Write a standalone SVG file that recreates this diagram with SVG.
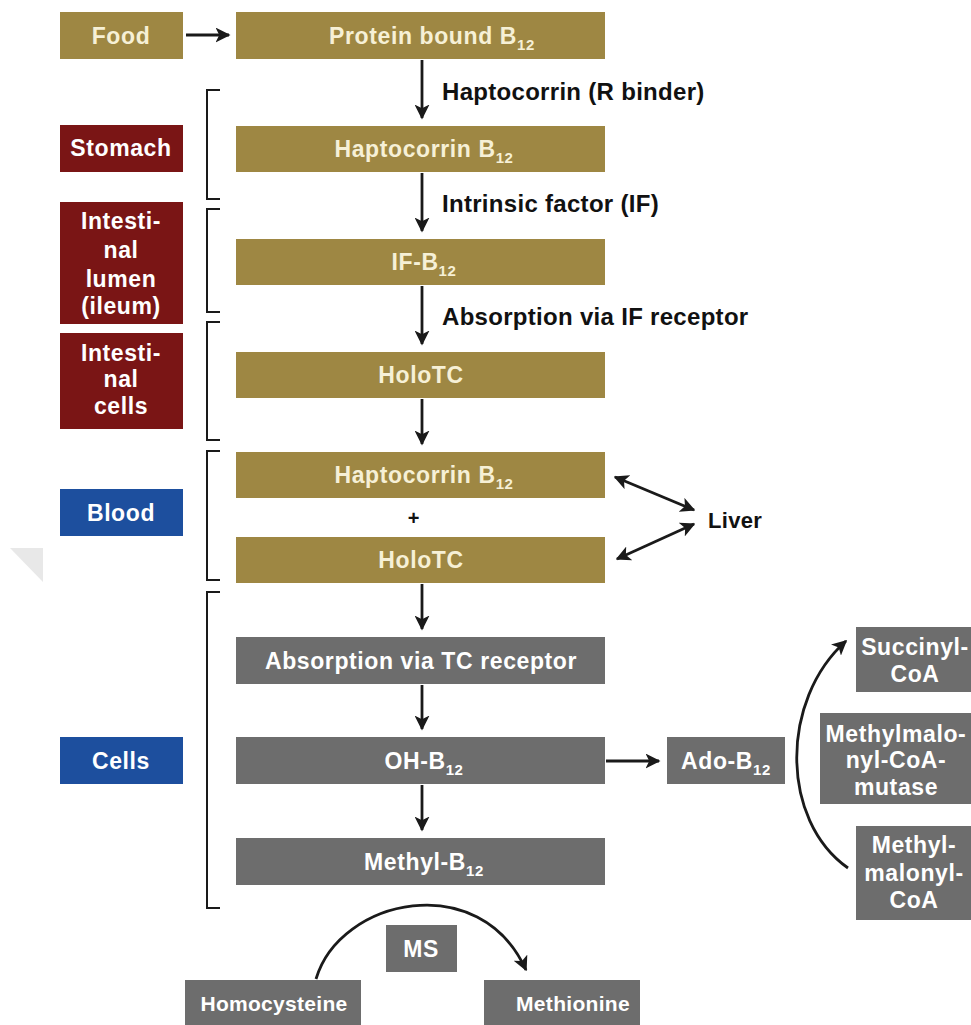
<svg xmlns="http://www.w3.org/2000/svg" width="971" height="1025" viewBox="0 0 971 1025">
<style>
.gold{fill:#9E8743}
.red{fill:#7A1515}
.blue{fill:#1D4F9E}
.gray{fill:#6D6D6D}
text{font-family:"Liberation Sans",Arial,sans-serif;font-weight:bold;font-size:23px;letter-spacing:0.6px;text-anchor:middle}
.lt{fill:#F6F0D6}
.wt{fill:#FFFFFF}
.bk{fill:#111;text-anchor:start;font-size:24px;letter-spacing:0.3px}
.sm{font-size:21px;letter-spacing:0.3px}
.sub{font-size:15px}
.ln{stroke:#1a1a1a;stroke-width:2.8;fill:none}
.br{stroke:#1a1a1a;stroke-width:2;fill:none}
</style>
<defs>
<marker id="a" viewBox="0 0 10 10" refX="9" refY="5" markerWidth="15" markerHeight="15" markerUnits="userSpaceOnUse" orient="auto-start-reverse">
<path d="M0,0 L10,5 L0,10 L2.5,5 Z" fill="#1a1a1a"/>
</marker>
</defs>
<rect width="971" height="1025" fill="#fff"/>
<polygon points="10,548 43,548 43,582" fill="#e8e8e8"/>

<g id="food"><rect class="gold" x="60" y="12" width="123" height="47"/><text class="lt" x="121" y="44">Food</text></g>
<g id="protein"><rect class="gold" x="236" y="12" width="369" height="47"/><text class="lt" x="432" y="44">Protein bound B<tspan class="sub" dy="6">12</tspan></text></g>
<g id="hapto1"><rect class="gold" x="236" y="126" width="369" height="46"/><text class="lt" x="424" y="157">Haptocorrin B<tspan class="sub" dy="6">12</tspan></text></g>
<g id="ifb12"><rect class="gold" x="236" y="239" width="369" height="46"/><text class="lt" x="424" y="270">IF-B<tspan class="sub" dy="6">12</tspan></text></g>
<g id="holotc1"><rect class="gold" x="236" y="352" width="369" height="46"/><text class="lt" x="421" y="383">HoloTC</text></g>
<g id="hapto2"><rect class="gold" x="236" y="452" width="369" height="46"/><text class="lt" x="424" y="483">Haptocorrin B<tspan class="sub" dy="6">12</tspan></text></g>
<g id="plus"><text x="414" y="525" style="fill:#111;font-size:20px">+</text></g>
<g id="holotc2"><rect class="gold" x="236" y="537" width="369" height="46"/><text class="lt" x="421" y="568">HoloTC</text></g>

<g id="stomach"><rect class="red" x="60" y="125" width="123" height="47"/><text class="wt" x="121" y="156">Stomach</text></g>
<g id="lumen"><rect class="red" x="60" y="202" width="123" height="122"/><text class="wt" x="121" y="229">Intesti-</text><text class="wt" x="121" y="258">nal</text><text class="wt" x="121" y="287">lumen</text><text class="wt" x="121" y="314">(ileum)</text></g>
<g id="icells"><rect class="red" x="60" y="333" width="123" height="96"/><text class="wt" x="121" y="361">Intesti-</text><text class="wt" x="121" y="387">nal</text><text class="wt" x="121" y="414">cells</text></g>
<g id="blood"><rect class="blue" x="60" y="489" width="123" height="47"/><text class="wt" x="121" y="521">Blood</text></g>
<g id="cells"><rect class="blue" x="60" y="737" width="123" height="47"/><text class="wt" x="121" y="769">Cells</text></g>

<g id="tcrec"><rect class="gray" x="236" y="637" width="369" height="47"/><text class="wt" x="421" y="669">Absorption via TC receptor</text></g>
<g id="ohb12"><rect class="gray" x="236" y="737" width="369" height="47"/><text class="wt" x="424" y="769">OH-B<tspan class="sub" dy="6">12</tspan></text></g>
<g id="methylb12"><rect class="gray" x="236" y="838" width="369" height="47"/><text class="wt" x="424" y="870">Methyl-B<tspan class="sub" dy="6">12</tspan></text></g>
<g id="adob12"><rect class="gray" x="667" y="737" width="118" height="47"/><text class="wt" x="726" y="769">Ado-B<tspan class="sub" dy="6">12</tspan></text></g>
<g id="succinyl"><rect class="gray" x="856" y="627" width="120" height="65"/><text class="wt" x="915" y="655">Succinyl-</text><text class="wt" x="915" y="682">CoA</text></g>
<g id="mutase"><rect class="gray" x="820" y="713" width="156" height="91"/><text class="wt" x="896" y="742">Methylmalo-</text><text class="wt" x="896" y="768">nyl-CoA-</text><text class="wt" x="896" y="795">mutase</text></g>
<g id="mmcoa"><rect class="gray" x="856" y="826" width="120" height="94"/><text class="wt" x="914" y="853">Methyl-</text><text class="wt" x="914" y="881">malonyl-</text><text class="wt" x="914" y="908">CoA</text></g>
<g id="ms"><rect class="gray" x="386" y="925" width="71" height="47"/><text class="wt" x="421" y="957">MS</text></g>
<g id="homocys"><rect class="gray" x="185" y="980" width="176" height="45"/><text class="wt sm" x="274" y="1011">Homocysteine</text></g>
<g id="methionine"><rect class="gray" x="484" y="980" width="156" height="45"/><text class="wt sm" x="573" y="1011">Methionine</text></g>

<g id="labels">
<text class="bk" x="442" y="100">Haptocorrin (R binder)</text>
<text class="bk" x="442" y="212">Intrinsic factor (IF)</text>
<text class="bk" x="442" y="325">Absorption via IF receptor</text>
<text class="bk" x="708" y="528" style="font-size:22px">Liver</text>
</g>

<g id="brackets">
<path class="br" d="M220,90 H207 V199 H220"/>
<path class="br" d="M220,209 H207 V312 H220"/>
<path class="br" d="M220,322 H207 V440 H220"/>
<path class="br" d="M220,451 H207 V580 H220"/>
<path class="br" d="M220,592 H207 V908 H220"/>
</g>

<g id="connectors">
<line class="ln" x1="186" y1="35" x2="229" y2="35" marker-end="url(#a)"/>
<line class="ln" x1="422" y1="60" x2="422" y2="118" marker-end="url(#a)"/>
<line class="ln" x1="422" y1="173" x2="422" y2="231" marker-end="url(#a)"/>
<line class="ln" x1="422" y1="286" x2="422" y2="344" marker-end="url(#a)"/>
<line class="ln" x1="422" y1="399" x2="422" y2="444" marker-end="url(#a)"/>
<line class="ln" x1="422" y1="584" x2="422" y2="629" marker-end="url(#a)"/>
<line class="ln" x1="422" y1="685" x2="422" y2="729" marker-end="url(#a)"/>
<line class="ln" x1="422" y1="785" x2="422" y2="830" marker-end="url(#a)"/>
<line class="ln" x1="606" y1="761" x2="659" y2="761" marker-end="url(#a)"/>
<line class="ln" x1="615" y1="477" x2="694" y2="510" marker-start="url(#a)" marker-end="url(#a)"/>
<line class="ln" x1="617" y1="559" x2="694" y2="524" marker-start="url(#a)" marker-end="url(#a)"/>
<path class="ln" d="M316,979 C340,898 480,868 526,970" marker-end="url(#a)"/>
<path class="ln" d="M848,868 C780,820 780,700 846,641" marker-end="url(#a)"/>
</g>
</svg>
